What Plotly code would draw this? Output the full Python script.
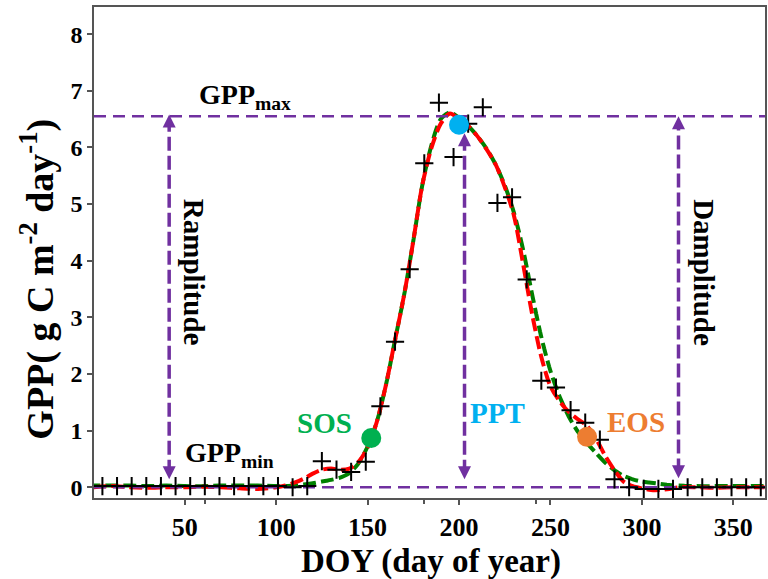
import plotly.graph_objects as go

# ---- observed 8-day GPP (g C m-2 day-1) ----
obs_doy = [5, 13, 21, 29, 37, 45, 53, 61, 69, 77, 85, 93, 101, 109, 117, 125,
           133, 141, 149, 157, 165, 173, 181, 189, 197, 205, 213, 221, 229, 237,
           245, 253, 261, 269, 277, 285, 293, 301, 309, 317, 325, 333, 341, 349,
           357, 365]
obs_gpp = [0.02, 0.02, 0.02, 0.02, 0.02, 0.02, 0.02, 0.02, 0.02, 0.02, 0.02, 0.02,
           0.02, 0.0, 0.02, 0.46, 0.31, 0.27, 0.45, 1.43, 2.57, 3.85, 5.72, 6.79,
           5.83, 6.42, 6.71, 5.02, 5.12, 3.67, 1.88, 1.76, 1.36, 1.14, 0.84, 0.14,
           0.0, -0.03, -0.03, -0.03, 0.0, 0.0, 0.0, 0.0, 0.0, 0.0]

# ---- fitted curves ----
fit_doy = [0, 10, 20, 30, 40, 50, 60, 70, 80, 90, 100, 105, 110, 115, 120, 125,
           130, 135, 140, 145, 150, 155, 160, 165, 170, 175, 180, 185, 190, 195,
           200, 205, 210, 215, 220, 225, 230, 235, 240, 245, 250, 255, 260, 265,
           270, 275, 280, 285, 290, 295, 300, 305, 310, 315, 320, 330, 340, 350,
           360, 367]
fit_red = [0.0, 0.02, 0.0, -0.01, 0.0, 0.0, 0.01, 0.0, -0.02, -0.03, 0.0, 0.03,
           0.08, 0.15, 0.24, 0.31, 0.33, 0.31, 0.33, 0.45, 0.7, 1.15, 1.8, 2.6,
           3.4, 4.35, 5.35, 6.0, 6.42, 6.6, 6.5, 6.38, 6.2, 5.97, 5.7, 5.3, 4.8,
           3.95, 3.05, 2.3, 1.78, 1.52, 1.33, 1.2, 1.08, 0.85, 0.55, 0.3, 0.1,
           0.02, -0.02, -0.05, -0.05, -0.03, 0.0, 0.0, -0.01, 0.0, 0.0, 0.0]
fit_green = [0.03, 0.03, 0.03, 0.02, 0.03, 0.02, 0.02, 0.03, 0.03, 0.03, 0.02,
             0.02, 0.03, 0.05, 0.07, 0.1, 0.13, 0.17, 0.25, 0.42, 0.72, 1.15, 1.8,
             2.6, 3.4, 4.35, 5.35, 6.05, 6.5, 6.62, 6.52, 6.38, 6.2, 5.98, 5.7,
             5.33, 4.85, 4.2, 3.4, 2.65, 2.05, 1.6, 1.25, 0.98, 0.78, 0.6, 0.43,
             0.3, 0.2, 0.14, 0.1, 0.08, 0.06, 0.04, 0.03, 0.02, 0.02, 0.02, 0.02,
             0.02]

# ---- phenology metrics ----
gpp_max = 6.55
gpp_min = 0.0
pheno_names = ["SOS", "PPT", "EOS"]
pheno_doy = [152, 200, 270]
pheno_gpp = [0.87, 6.40, 0.89]
pheno_colors = ["#00B050", "#00B0F0", "#ED7D31"]

# double-headed arrows: x position, lower tip, upper tip
arrow_x = [41.5, 203, 320]
arrow_lo = [0.14, 0.14, 0.16]
arrow_hi = [6.58, 6.25, 6.55]

x_ticks = [50, 100, 150, 200, 250, 300, 350]
x_minor = [61, 181, 242]
y_ticks = [0, 1, 2, 3, 4, 5, 6, 7, 8]
X_RANGE = [0.4, 367.3]
Y_RANGE = [-0.19, 8.48]

PURPLE = "#7030A0"
FONT = "Liberation Serif"

fig = go.Figure()

# fitted curves
fig.add_trace(go.Scatter(x=fit_doy, y=fit_green, mode="lines",
                         line=dict(color="#008000", width=4, dash="7px,5px,6px,0px",
                                   shape="spline", smoothing=0.8),
                         hoverinfo="skip"))
fig.add_trace(go.Scatter(x=fit_doy, y=fit_red, mode="lines",
                         line=dict(color="#FF0000", width=4, dash="13px,5px",
                                   shape="spline", smoothing=0.8),
                         hoverinfo="skip"))

# GPPmax / GPPmin reference lines
for level in (gpp_max, gpp_min):
    fig.add_trace(go.Scatter(x=X_RANGE, y=[level, level], mode="lines",
                             line=dict(color=PURPLE, width=2.5, dash="12px,7px"),
                             hoverinfo="skip"))

# dashed arrow shafts and heads
for ax, lo, hi in zip(arrow_x, arrow_lo, arrow_hi):
    fig.add_trace(go.Scatter(x=[ax, ax], y=[lo + 0.1, hi - 0.1], mode="lines",
                             line=dict(color=PURPLE, width=3.5, dash="14px,5px"),
                             hoverinfo="skip"))
fig.add_trace(go.Scatter(x=arrow_x, y=arrow_hi, mode="markers",
                         marker=dict(symbol="arrow-up", size=13, color=PURPLE,
                                     line=dict(width=0)),
                         hoverinfo="skip"))
fig.add_trace(go.Scatter(x=arrow_x, y=arrow_lo, mode="markers",
                         marker=dict(symbol="arrow-down", size=13, color=PURPLE,
                                     line=dict(width=0)),
                         hoverinfo="skip"))

# observations
fig.add_trace(go.Scatter(x=obs_doy, y=obs_gpp, mode="markers",
                         marker=dict(symbol="cross-thin", size=13,
                                     line=dict(color="black", width=2)),
                         hoverinfo="skip"))

# phenology points
fig.add_trace(go.Scatter(x=pheno_doy, y=pheno_gpp, mode="markers",
                         marker=dict(size=20, color=pheno_colors, line=dict(width=0)),
                         hoverinfo="skip"))

bold = dict(family=FONT, weight="bold")

annotations = [
    dict(x=56.5, y=6.9, xref="x", yref="y", text="GPP<sub>max</sub>",
         xanchor="left", yanchor="middle", showarrow=False,
         font=dict(size=28, color="black", **bold)),
    dict(x=49, y=0.57, xref="x", yref="y", text="GPP<sub>min</sub>",
         xanchor="left", yanchor="middle", showarrow=False,
         font=dict(size=28, color="black", **bold)),
    dict(x=55.5, y=3.79, xref="x", yref="y", text="Ramplitude", textangle=90,
         xanchor="center", yanchor="middle", showarrow=False,
         font=dict(size=29, color="black", **bold)),
    dict(x=334.2, y=3.79, xref="x", yref="y", text="Damplitude", textangle=90,
         xanchor="center", yanchor="middle", showarrow=False,
         font=dict(size=29, color="black", **bold)),
    dict(x=126.4, y=1.13, xref="x", yref="y", text=pheno_names[0],
         xanchor="center", yanchor="middle", showarrow=False,
         font=dict(size=29, color=pheno_colors[0], **bold)),
    dict(x=221.3, y=1.31, xref="x", yref="y", text=pheno_names[1],
         xanchor="center", yanchor="middle", showarrow=False,
         font=dict(size=29, color=pheno_colors[1], **bold)),
    dict(x=296.6, y=1.15, xref="x", yref="y", text=pheno_names[2],
         xanchor="center", yanchor="middle", showarrow=False,
         font=dict(size=29, color=pheno_colors[2], **bold)),
    # axis titles
    dict(x=0.502, y=-0.13, xref="paper", yref="paper", text="DOY (day of year)",
         xanchor="center", yanchor="middle", showarrow=False,
         font=dict(size=33, color="black", **bold)),
    dict(x=-0.0847, y=0.445, xref="paper", yref="paper",
         text="GPP( g C m<sup>-2</sup> day<sup>-1</sup>)", textangle=-90,
         xanchor="center", yanchor="middle", showarrow=False,
         font=dict(size=38, color="black", **bold)),
]

axis_common = dict(showline=True, linecolor="#555555", linewidth=1.5, mirror=True,
                   ticks="outside", ticklen=5, tickwidth=1.5, tickcolor="#555555",
                   showgrid=False, zeroline=False)

fig.update_layout(
    width=768, height=579,
    margin=dict(l=94, r=1, t=7, b=81),
    paper_bgcolor="white", plot_bgcolor="white",
    showlegend=False,
    annotations=annotations,
    xaxis=dict(range=X_RANGE, tickmode="array", tickvals=x_ticks,
               minor=dict(tickmode="array", tickvals=x_minor, ticks="outside",
                          ticklen=4, tickcolor="#555555"),
               tickfont=dict(size=26, color="black", **bold), **axis_common),
    yaxis=dict(range=Y_RANGE, tickmode="array", tickvals=y_ticks,
               tickfont=dict(size=24, color="black", **bold), **axis_common),
)

fig.write_html("out.html")
